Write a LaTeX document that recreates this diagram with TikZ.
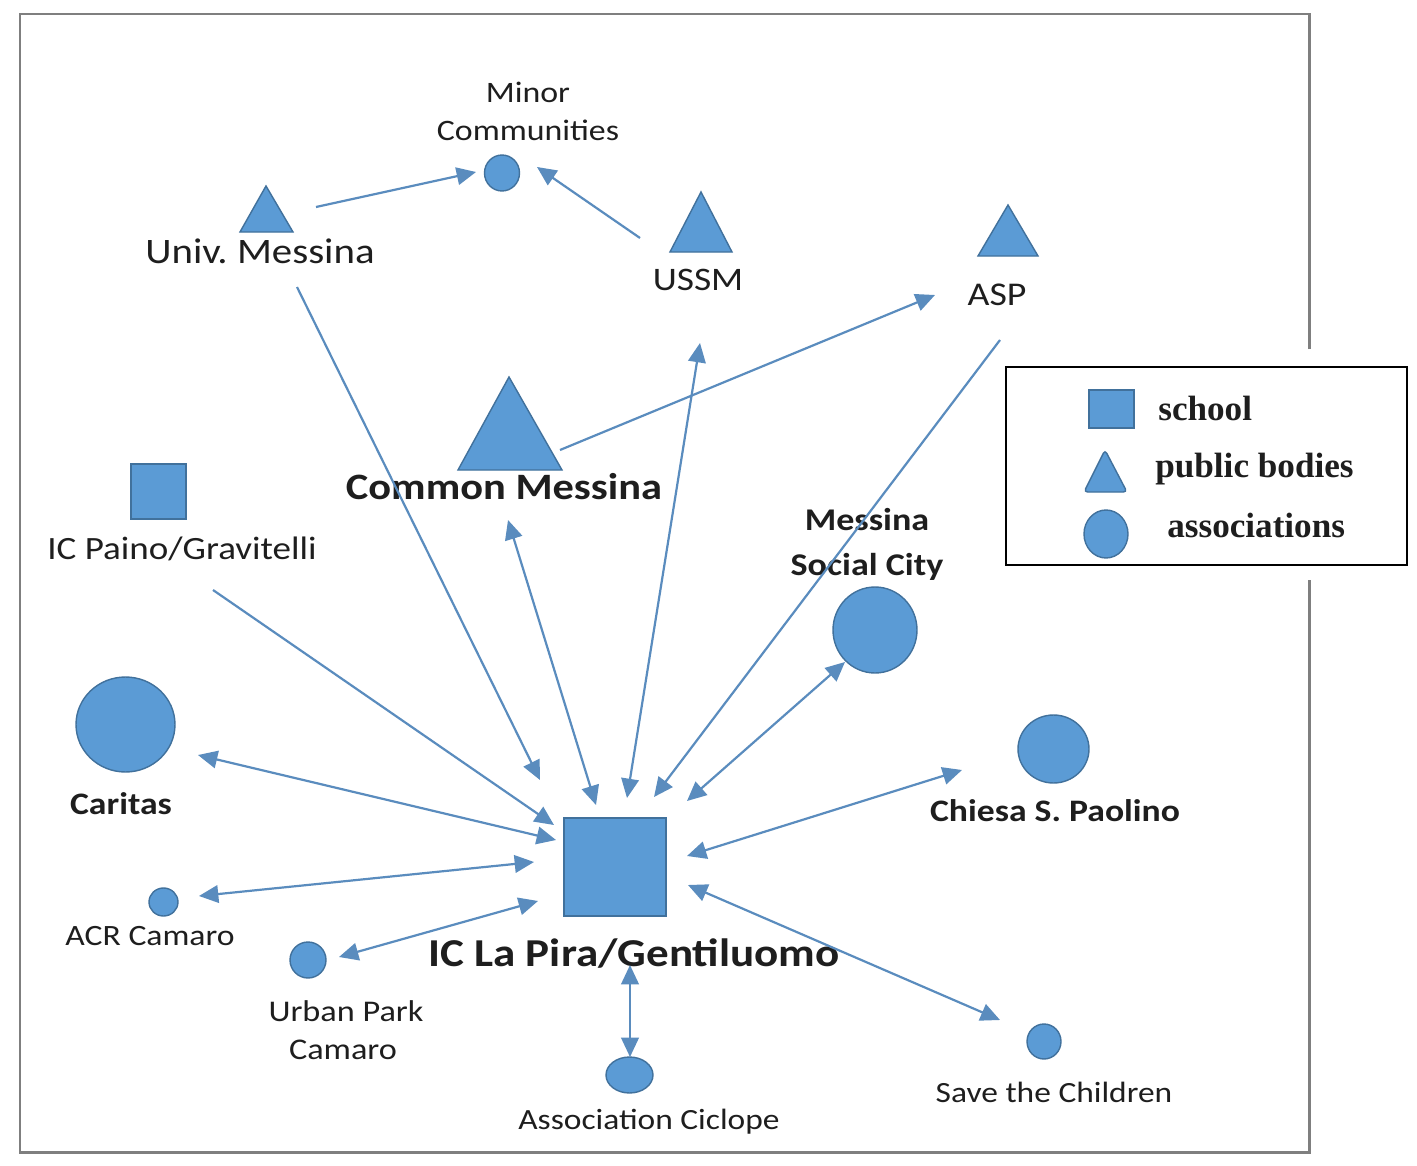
\documentclass[tikz,border=0pt]{standalone}
\usepackage{fontspec}
\setmainfont[FakeStretch=1.14]{Carlito}
\newfontfamily\legfont{Liberation Serif}
\usetikzlibrary{arrows.meta,shapes.geometric}
\definecolor{nodefill}{HTML}{5B9BD5}
\definecolor{nodeedge}{HTML}{41719C}
\definecolor{arrowcol}{HTML}{5A8CBE}
\definecolor{framecol}{HTML}{7F7F7F}
\definecolor{txt}{HTML}{1E1E1E}
\newcommand\fsz[2]{\fontsize{#1}{#2}\selectfont}
\begin{document}
\begin{tikzpicture}[x=0.02cm, y=-0.02cm,
  shp/.style={fill=nodefill, draw=nodeedge, line width=0.8pt},
  assoc/.style={shp, ellipse, inner sep=0pt},
  schoolbox/.style={shp, rectangle, inner sep=0pt},
  lbl/.style={anchor=base, inner sep=0pt, text=txt},
  link/.style={draw=arrowcol, line width=1.25pt, -{Triangle[length=11pt,width=10pt]}},
  both/.style={draw=arrowcol, line width=1.25pt, {Triangle[length=11pt,width=10pt]}-{Triangle[length=11pt,width=10pt]}},
  leglbl/.style={anchor=base west, inner sep=0pt, font=\legfont\bfseries\fsz{20}{24}, text=txt}
]
\useasboundingbox (0,0) rectangle (1417,1166);
\fill[white] (0,0) rectangle (1417,1166);
% outer frame
\draw[framecol, line width=1.7pt] (1309,349) -- (1309,14) -- (20,14) -- (20,1152) -- (1309,1152) -- (1309,580);

% ---------- shapes ----------
\node[assoc, minimum width=0.70cm, minimum height=0.72cm] (minor) at (502,173) {};
\filldraw[shp] (266,186) -- (240,232) -- (293,232) -- cycle; \coordinate (univ) at (266,217);
\filldraw[shp] (701,192) -- (670,252) -- (732,252) -- cycle; \coordinate (ussm) at (701,232);
\filldraw[shp] (1008,205) -- (978,256) -- (1038,256) -- cycle; \coordinate (asp) at (1008,239);
\filldraw[shp] (509,377) -- (458,470) -- (562,470) -- cycle; \coordinate (common) at (509,439);
\node[schoolbox, minimum width=1.10cm, minimum height=1.10cm] (paino) at (158.5,491.5) {};
\node[assoc, minimum width=1.68cm, minimum height=1.72cm] (social) at (875,630) {};
\node[assoc, minimum width=1.98cm, minimum height=1.90cm] (caritas) at (125.5,724.5) {};
\node[assoc, minimum width=1.42cm, minimum height=1.36cm] (chiesa) at (1053.5,749) {};
\node[assoc, minimum width=0.58cm, minimum height=0.56cm] (acr) at (163.5,902) {};
\node[assoc, minimum width=0.72cm, minimum height=0.72cm] (urban) at (308,960) {};
\node[schoolbox, minimum width=2.04cm, minimum height=1.96cm] (lapira) at (615,867) {};
\node[assoc, minimum width=0.94cm, minimum height=0.72cm] (ciclope) at (629.5,1075) {};
\node[assoc, minimum width=0.68cm, minimum height=0.70cm] (save) at (1044,1041.5) {};

% ---------- labels ----------
\node[lbl, font=\fsz{16.9}{21}] (minor-t) at (528,103) {Minor};
\node[lbl, font=\fsz{16.9}{21}] (minor-b) at (528,141) {Communities};
\node[lbl, font=\fsz{20.4}{24}] (univ-t) at (260,263) {Univ.\ Messina};
\node[lbl, font=\fsz{18.7}{22}] (ussm-t) at (698,290) {USSM};
\node[lbl, font=\fsz{18.9}{22}] (asp-t) at (997,305) {ASP};
\node[lbl, font=\bfseries\fsz{21.2}{25}] (common-t) at (504,499) {Common Messina};
\node[lbl, font=\fsz{18.5}{22}] (paino-t) at (182,559) {IC Paino/Gravitelli};
\node[lbl, font=\bfseries\fsz{18}{22}] (social-t) at (867,530) {Messina};
\node[lbl, font=\bfseries\fsz{18}{22}] (social-b) at (867,575) {Social City};
\node[lbl, font=\bfseries\fsz{17.8}{22}] (caritas-t) at (121,814) {Caritas};
\node[lbl, font=\bfseries\fsz{17.8}{22}] (chiesa-t) at (1055,821) {Chiesa S.\ Paolino};
\node[lbl, font=\fsz{16.8}{20}] (acr-t) at (150,945) {ACR Camaro};
\node[lbl, font=\fsz{17.1}{20}] (urban-t) at (346,1021) {Urban Park};
\node[lbl, font=\fsz{17.1}{20}] (urban-b) at (343,1059) {Camaro};
\node[lbl, font=\bfseries\fsz{22.5}{27}] (lapira-t) at (634,966) {IC La Pira/Gentiluomo};
\node[lbl, font=\fsz{16.7}{20}] (ciclope-t) at (649,1129) {Association Ciclope};
\node[lbl, font=\fsz{16.7}{20}] (save-t) at (1054,1102) {Save the Children};

% ---------- connector ends ----------
\coordinate (e1s) at (316,207);  \coordinate (e1t) at (476,172);
\coordinate (e2s) at (640,238);  \coordinate (e2t) at (537,167);
\coordinate (e3s) at (297,287);  \coordinate (e3t) at (540,780);
\coordinate (e4s) at (700,343);  \coordinate (e4t) at (627,798);
\coordinate (e5s) at (560,450);  \coordinate (e5t) at (935,295);
\coordinate (e6s) at (1000,340); \coordinate (e6t) at (654,797);
\coordinate (e7s) at (508,520);  \coordinate (e7t) at (596,805);
\coordinate (e8s) at (213,590);  \coordinate (e8t) at (554,825);
\coordinate (e9s) at (845,662);  \coordinate (e9t) at (687,801);
\coordinate (e10s) at (198,755); \coordinate (e10t) at (556,840);
\coordinate (e11s) at (962,770); \coordinate (e11t) at (687,856);
\coordinate (e12s) at (199,896); \coordinate (e12t) at (534,862);
\coordinate (e13s) at (339,957); \coordinate (e13t) at (538,901);
\coordinate (e14s) at (630,965); \coordinate (e14t) at (630,1057);
\coordinate (e15s) at (688,885); \coordinate (e15t) at (1000,1020);

% ---------- connectors ----------
\draw[link] (e1s) -- (e1t);   % Univ -> Minor
\draw[link] (e2s) -- (e2t);   % USSM -> Minor
\draw[link] (e3s) -- (e3t);   % Univ -> La Pira
\draw[both] (e4s) -- (e4t);   % USSM <-> La Pira
\draw[link] (e5s) -- (e5t);   % Common -> ASP
\draw[link] (e6s) -- (e6t);   % ASP -> La Pira
\draw[both] (e7s) -- (e7t);   % Common <-> La Pira
\draw[link] (e8s) -- (e8t);   % Paino -> La Pira
\draw[both] (e9s) -- (e9t);   % Social <-> La Pira
\draw[both] (e10s) -- (e10t); % Caritas <-> La Pira
\draw[both] (e11s) -- (e11t); % Chiesa <-> La Pira
\draw[both] (e12s) -- (e12t); % ACR <-> La Pira
\draw[both] (e13s) -- (e13t); % Urban <-> La Pira
\draw[both] (e14s) -- (e14t); % La Pira <-> Ciclope
\draw[both] (e15s) -- (e15t); % La Pira <-> Save

% ---------- legend ----------
\draw[black, line width=1.5pt, fill=white] (1006,367) rectangle (1407,565);
\node[schoolbox, minimum width=0.90cm, minimum height=0.76cm] (legsq) at (1111.5,409) {};
\filldraw[shp, rounded corners=2pt] (1105,450) -- (1084,492) -- (1127,492) -- cycle; \coordinate (legtri) at (1105,478);
\node[assoc, minimum width=0.88cm, minimum height=0.96cm] (legci) at (1106,534) {};
\node[leglbl] (leg1) at (1158,420) {school};
\node[leglbl] (leg2) at (1155,477) {public bodies};
\node[leglbl] (leg3) at (1167,537) {associations};
\end{tikzpicture}
\end{document}
